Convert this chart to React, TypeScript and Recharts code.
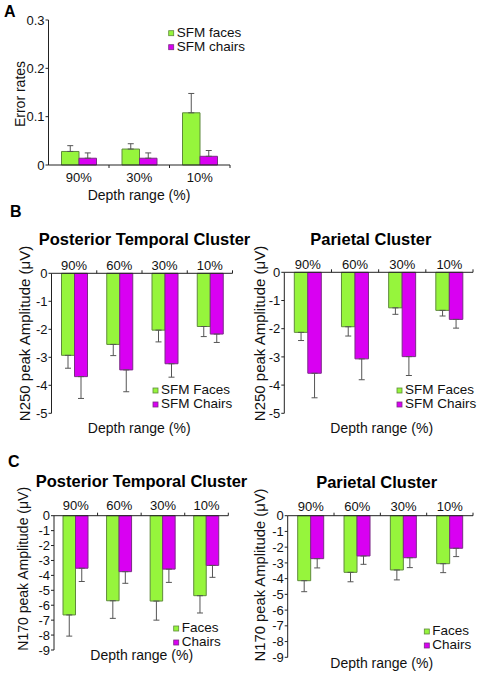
import React from "react";
import { BarChart, Bar, XAxis, YAxis, ErrorBar } from "recharts";

const FONT = '"Liberation Sans", Arial, Helvetica, sans-serif';
const GREEN = "#96f53c";
const GREEN_EDGE = "#5f8a3c";
const MAGENTA = "#d900f2";
const MAGENTA_EDGE = "#7a2c86";
const ERR = "#555";

// A: error rates
const depthA = ["90%", "30%", "10%"];
const rateFaces = [0.028, 0.033, 0.108];
const rateFacesSe = [0.012, 0.011, 0.04];
const rateChairs = [0.014, 0.014, 0.018];
const rateChairsSe = [0.011, 0.011, 0.012];
const ticksA = [0, 0.1, 0.2, 0.3];
const legendA = ["SFM faces", "SFM chairs"];

// B, C: depth ranges
const depth = ["90%", "60%", "30%", "10%"];

const n250TempFaces = [-2.93, -2.54, -2.03, -1.9];
const n250TempFacesSe = [0.46, 0.4, 0.42, 0.36];
const n250TempChairs = [-3.69, -3.45, -3.23, -2.17];
const n250TempChairsSe = [0.78, 0.78, 0.48, 0.3];

const n250ParFaces = [-2.13, -1.93, -1.26, -1.35];
const n250ParFacesSe = [0.29, 0.33, 0.23, 0.2];
const n250ParChairs = [-3.58, -3.07, -2.99, -1.67];
const n250ParChairsSe = [0.87, 0.74, 0.67, 0.31];

const n170TempFaces = [-6.65, -5.7, -5.72, -5.36];
const n170TempFacesSe = [1.42, 1.18, 1.28, 1.16];
const n170TempChairs = [-3.52, -3.75, -3.58, -3.33];
const n170TempChairsSe = [0.89, 0.78, 0.89, 0.8];

const n170ParFaces = [-4.13, -3.6, -3.45, -3.05];
const n170ParFacesSe = [0.7, 0.6, 0.63, 0.57];
const n170ParChairs = [-2.73, -2.56, -2.67, -2.07];
const n170ParChairsSe = [0.59, 0.53, 0.63, 0.53];

const ticksB = [0, -1, -2, -3, -4, -5];
const ticksC = [0, -1, -2, -3, -4, -5, -6, -7, -8, -9];
const legendB = ["SFM Faces", "SFM Chairs"];
const legendC = ["Faces", "Chairs"];

const rows = (cats: string[], f: number[], fe: number[], c: number[], ce: number[]) =>
  cats.map((d, i) => ({ depth: d, faces: f[i], facesSe: fe[i], chairs: c[i], chairsSe: ce[i] }));

const TICK_MARGIN = 4;
const YW = 30;
const XH = 20;

function BandTick(props: any) {
  const { x, y, payload, index, side, gap, count, half } = props;
  const h = payload && typeof payload.offset === "number" && payload.offset > 0 ? payload.offset : half;
  const top = side === "top";
  const axisY = top ? y + TICK_MARGIN : y - TICK_MARGIN;
  const dir = top ? -1 : 1;
  const textY = top ? axisY - gap : axisY + gap;
  return (
    <g>
      <text x={x} y={textY} textAnchor="middle" fontSize={13} fill="#111" fontFamily={FONT}>
        {payload.value}
      </text>
      {index > 0 && <line x1={x - h} x2={x - h} y1={axisY} y2={axisY + dir * 3} stroke="#222" />}
      {index === count - 1 && <line x1={x + h} x2={x + h} y1={axisY} y2={axisY + dir * 3} stroke="#222" />}
    </g>
  );
}

type Box = { left: number; top: number; width: number; height: number };
type Plot = { left: number; right: number; top: number; bottom: number };

function Panel(props: {
  data: any[];
  box: Box;
  plot: Plot;
  side: "top" | "bottom";
  domain: [number, number];
  ticks: number[];
  barSize: number;
  gap: number;
  tickFont?: number;
  fmt?: (v: number) => string;
}) {
  const { data, box, plot, side, domain, ticks, barSize, gap, tickFont = 13, fmt } = props;
  const up = side === "bottom";
  const margin = {
    left: plot.left - box.left - YW,
    right: box.left + box.width - plot.right,
    top: up ? plot.top - box.top : plot.top - box.top - XH,
    bottom: up ? box.top + box.height - plot.bottom - XH : box.top + box.height - plot.bottom,
  };
  const half = (plot.right - plot.left) / data.length / 2;
  return (
    <div style={{ position: "absolute", left: box.left, top: box.top }}>
      <BarChart
        width={box.width}
        height={box.height}
        data={data}
        margin={margin}
        barSize={barSize}
        barGap={0}
      >
        <XAxis
          dataKey="depth"
          orientation={side}
          height={XH}
          interval={0}
          tickLine={false}
          tickSize={0}
          tickMargin={TICK_MARGIN}
          axisLine={{ stroke: "#222" }}
          tick={(p: any) => (
            <BandTick {...p} side={side} gap={gap} count={data.length} half={half} />
          )}
        />
        <YAxis
          width={YW}
          type="number"
          domain={domain}
          ticks={ticks}
          interval={0}
          tickSize={3}
          tickMargin={1}
          tickFormatter={fmt}
          axisLine={{ stroke: "#222" }}
          tickLine={{ stroke: "#222" }}
          tick={{ fontSize: tickFont, fill: "#111", fontFamily: FONT }}
        />
        <Bar dataKey="faces" fill={GREEN} stroke={GREEN_EDGE} isAnimationActive={false}>
          <ErrorBar
            dataKey={(d: any) => (up ? [0, d.facesSe] : [d.facesSe, 0])}
            direction="y"
            width={3}
            stroke={ERR}
            strokeWidth={1}
          />
        </Bar>
        <Bar dataKey="chairs" fill={MAGENTA} stroke={MAGENTA_EDGE} isAnimationActive={false}>
          <ErrorBar
            dataKey={(d: any) => (up ? [0, d.chairsSe] : [d.chairsSe, 0])}
            direction="y"
            width={3}
            stroke={ERR}
            strokeWidth={1}
          />
        </Bar>
      </BarChart>
    </div>
  );
}

function Legend({ x, y, names, size = 13.5 }: { x: number; y: number; names: string[]; size?: number }) {
  const fills = [GREEN, MAGENTA];
  const edges = [GREEN_EDGE, MAGENTA_EDGE];
  return (
    <g>
      {names.map((n, i) => (
        <g key={n}>
          <rect x={x - 8} y={y + i * 14 - 6} width={5} height={5} fill={fills[i]} stroke={edges[i]} strokeWidth={0.8} />
          <text x={x} y={y + i * 14} fontSize={size} fill="#111">{n}</text>
        </g>
      ))}
    </g>
  );
}

function YLabel({ x, y, text, size }: { x: number; y: number; text: string; size: number }) {
  return (
    <text x={x} y={y} transform={`rotate(-90 ${x} ${y})`} textAnchor="middle" fontSize={size} fill="#111">
      {text}
    </text>
  );
}

export default function App() {
  const dataA = rows(depthA, rateFaces, rateFacesSe, rateChairs, rateChairsSe);
  const dataB1 = rows(depth, n250TempFaces, n250TempFacesSe, n250TempChairs, n250TempChairsSe);
  const dataB2 = rows(depth, n250ParFaces, n250ParFacesSe, n250ParChairs, n250ParChairsSe);
  const dataC1 = rows(depth, n170TempFaces, n170TempFacesSe, n170TempChairs, n170TempChairsSe);
  const dataC2 = rows(depth, n170ParFaces, n170ParFacesSe, n170ParChairs, n170ParChairsSe);

  return (
    <div
      style={{
        position: "absolute",
        left: 0,
        top: 0,
        width: 483,
        height: 677,
        background: "#fff",
        fontFamily: FONT,
        overflow: "hidden",
      }}
    >
      <Panel
        data={dataA}
        box={{ left: 0, top: 0, width: 250, height: 200 }}
        plot={{ left: 48.5, right: 230, top: 20, bottom: 165 }}
        side="bottom"
        domain={[0, 0.3]}
        ticks={ticksA}
        barSize={17.5}
        gap={16.5}
        fmt={(v) => (v === 0 ? "0" : String(v))}
      />
      <Panel
        data={dataB1}
        box={{ left: 0, top: 250, width: 245, height: 170 }}
        plot={{ left: 51.5, right: 232.5, top: 273.3, bottom: 413.3 }}
        side="top"
        domain={[-5, 0]}
        ticks={ticksB}
        barSize={13}
        gap={3.5}
      />
      <Panel
        data={dataB2}
        box={{ left: 240, top: 250, width: 243, height: 170 }}
        plot={{ left: 284.3, right: 473, top: 272.3, bottom: 413.3 }}
        side="top"
        domain={[-5, 0]}
        ticks={ticksB}
        barSize={13.5}
        gap={3.5}
      />
      <Panel
        data={dataC1}
        box={{ left: 0, top: 490, width: 245, height: 170 }}
        plot={{ left: 54, right: 228.3, top: 515.7, bottom: 650 }}
        side="top"
        domain={[-9, 0]}
        ticks={ticksC}
        barSize={12.5}
        gap={5.5}
      />
      <Panel
        data={dataC2}
        box={{ left: 240, top: 490, width: 243, height: 180 }}
        plot={{ left: 287.7, right: 473, top: 515.7, bottom: 657.3 }}
        side="top"
        domain={[-9, 0]}
        ticks={ticksC}
        barSize={13}
        gap={5}
      />
      <svg
        width={483}
        height={677}
        style={{ position: "absolute", left: 0, top: 0, pointerEvents: "none" }}
        fontFamily={FONT}
      >
        <text x={4} y={17} fontSize={16} fontWeight="bold">A</text>
        <text x={10} y={217} fontSize={16} fontWeight="bold">B</text>
        <text x={8} y={467} fontSize={16} fontWeight="bold">C</text>

        <YLabel x={25} y={94} text="Error rates" size={14} />
        <text x={139} y={200} textAnchor="middle" fontSize={14} fill="#111">Depth range (%)</text>
        <Legend x={176.7} y={36.7} names={legendA} size={13.5} />

        <text x={144.5} y={245} textAnchor="middle" fontSize={16.5} fontWeight="bold">Posterior Temporal Cluster</text>
        <text x={370.8} y={245} textAnchor="middle" fontSize={16.5} fontWeight="bold">Parietal Cluster</text>
        <YLabel x={29.5} y={333.5} text="N250 peak Amplitude (μV)" size={15} />
        <YLabel x={264.5} y={333.5} text="N250 peak Amplitude (μV)" size={15} />
        <text x={139.2} y={433} textAnchor="middle" fontSize={14} fill="#111">Depth range (%)</text>
        <text x={381.7} y={433} textAnchor="middle" fontSize={14} fill="#111">Depth range (%)</text>
        <Legend x={161} y={394} names={legendB} />
        <Legend x={405} y={394} names={legendB} />

        <text x={141.5} y={486.7} textAnchor="middle" fontSize={16.5} fontWeight="bold">Posterior Temporal Cluster</text>
        <text x={376.7} y={488.3} textAnchor="middle" fontSize={16.5} fontWeight="bold">Parietal Cluster</text>
        <YLabel x={28} y={568.8} text="N170 peak Amplitude (μV)" size={14} />
        <YLabel x={265} y={575} text="N170 peak Amplitude (μV)" size={14.8} />
        <text x={141.7} y={660} textAnchor="middle" fontSize={14} fill="#111">Depth range (%)</text>
        <text x={381.7} y={668} textAnchor="middle" fontSize={14} fill="#111">Depth range (%)</text>
        <Legend x={181.7} y={632} names={legendC} size={13.5} />
        <Legend x={432.3} y={635} names={legendC} size={13.5} />
      </svg>
    </div>
  );
}
